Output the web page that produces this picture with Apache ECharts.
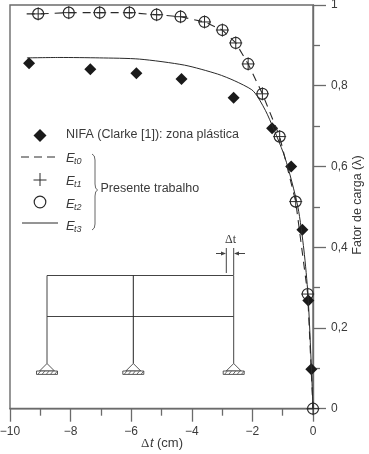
<!DOCTYPE html>
<html><head><meta charset="utf-8">
<script src="https://cdn.jsdelivr.net/npm/echarts@6/dist/echarts.min.js"></script>
<style>html,body{margin:0;padding:0;background:#fff}#c{width:369px;height:454px}</style>
</head><body><div id="c"></div>
<script>
// Data
const nifaX = [-9.37,-7.35,-5.83,-4.34,-2.62,-1.35,-0.72,-0.35,-0.155,-0.055];
const nifaY = [0.856,0.841,0.831,0.817,0.770,0.695,0.600,0.443,0.268,0.098];
const femX  = [-9.07,-8.06,-7.04,-6.06,-5.16,-4.37,-3.58,-2.99,-2.55,-2.14,-1.67,-1.10,-0.57,-0.175,0];
const femY  = [0.978,0.981,0.981,0.981,0.976,0.971,0.958,0.938,0.906,0.854,0.780,0.674,0.513,0.284,0];
const dashX = [-9.45,-9.07,-8.06,-7.04,-6.06,-5.16,-4.37,-3.58,-2.99,-2.55,-2.14,-1.67,-1.10,-0.57,-0.175,0];
const dashY = [0.978,0.978,0.981,0.981,0.981,0.976,0.971,0.958,0.938,0.906,0.854,0.780,0.674,0.513,0.284,0];
const solidX = [-9.44,-8.38,-7.05,-5.73,-4.24,-3.15,-2.58,-2.02,-1.82,-1.50,-0.93,-0.50,-0.30,-0.166,-0.05,0];
const solidY = [0.869,0.870,0.869,0.866,0.851,0.829,0.812,0.790,0.772,0.728,0.623,0.500,0.393,0.282,0.096,0];
const xTickLabels = {'-10':'\u221210','-8':'\u22128','-6':'\u22126','-4':'\u22124','-2':'\u22122','0':'0'};
const yTickLabels = {'0':'0','0.2':'0,2','0.4':'0,4','0.6':'0,6','0.8':'0,8','1':'1'};
const legendMain = 'NIFA (Clarke [1]): zona pl\u00e1stica';
const legendGroup = 'Presente trabalho';
const legendSubs = ['t0','t1','t2','t3'];
const yTitle = 'Fator de carga (\u03bb)';

const zip = (a,b)=>a.map((v,i)=>[v,b[i]]);
const AX='#6b6b6b', INK='#2a2a2a', TXT='#3a3a3a';
const FONT='"Liberation Sans",Arial,sans-serif';
const plus='path://M-1 0L1 0M0 -1L0 1';

const g=[];
const line=(x1,y1,x2,y2,c=INK,w=1)=>g.push({type:'line',silent:true,shape:{x1,y1,x2,y2},style:{stroke:c,lineWidth:w}});
const txt=(x,y,text,o={})=>g.push({type:'text',silent:true,x,y,style:Object.assign({text,fill:TXT,font:`12.5px ${FONT}`,verticalAlign:'middle'},o)});
const poly=(points,style)=>g.push({type:'polygon',silent:true,shape:{points},style});
const curve=(x1,y1,cpx1,cpy1,x2,y2)=>g.push({type:'bezierCurve',silent:true,shape:{x1,y1,cpx1,cpy1,x2,y2},style:{fill:'none',stroke:'#555',lineWidth:0.9}});

// Legend
poly([[40,129],[46.5,135.5],[40,142],[33.5,135.5]],{fill:'#1a1a1a'});
txt(66,135,legendMain);
line(21,157,29,157);line(34,157,42,157);line(47,157,55,157);
line(40,173,40,186);line(33.5,180,46.5,180);
g.push({type:'circle',silent:true,shape:{cx:40,cy:202,r:5.8},style:{fill:'none',stroke:INK,lineWidth:1.2}});
line(22,223,58,223);
[158,181,204,226].forEach((y,i)=>{
  txt(66,y,'E',{font:`italic 13px ${FONT}`});
  txt(74,y+3,legendSubs[i],{font:`italic 9px ${FONT}`});
});
curve(92,154,95,155,95,160);line(95,160,95,184,'#555',0.9);curve(95,184,95,189,97.5,190);
curve(97.5,190,95,191,95,196);line(95,196,95,224,'#555',0.9);curve(95,224,95,229,92,230);
txt(100.5,189,legendGroup);

// Frame schematic
const FC='#444';
line(47,275.5,233.7,275.5,FC);line(47,316.5,233.7,316.5,FC);
[47,133.3,233.7].forEach(x=>{
  line(x,275.5,x,363.5,x===133.3?'#222':FC);
  poly([[x,363.5],[x-7.5,371],[x+7.5,371]],{fill:'none',stroke:FC,lineWidth:0.9});
  g.push({type:'rect',silent:true,shape:{x:x-10.5,y:371,width:21,height:3.4},style:{fill:'#fff',stroke:FC,lineWidth:0.9}});
  for(let k=0;k<5;k++) line(x-9+k*4.2,374.2,x-6.5+k*4.2,371.2,FC,0.8);
});
line(226.3,248,226.3,273,FC);line(233.7,248,233.7,275,FC);
line(216,253.5,224,253.5,FC);line(236,253.5,245,253.5,FC);
poly([[226,253.5],[221,251.5],[221,255.5]],{fill:FC});
poly([[234,253.5],[239,251.5],[239,255.5]],{fill:FC});
txt(225,240,'\u0394t',{font:'12px "Liberation Serif",serif'});

// Axis titles
g.push({type:'text',silent:true,x:358,y:205,rotation:Math.PI/2,style:{text:yTitle,fill:TXT,font:`12.5px ${FONT}`,align:'center',verticalAlign:'middle'}});
txt(141,443.5,'\u0394',{font:'13px "Liberation Serif",serif'});
txt(150,443.5,'t',{font:`italic 13px ${FONT}`});
txt(157,443.5,'(cm)',{font:`13px ${FONT}`});

const chart=echarts.init(document.getElementById('c'),null,{renderer:'canvas'});
const axisCommon={axisLine:{show:true,onZero:false,lineStyle:{color:AX,width:1.4}},
  axisTick:{show:true,inside:false,length:13,lineStyle:{color:AX,width:1.3}},
  minorTick:{show:true,splitNumber:2,length:7,lineStyle:{color:AX,width:1.3}},
  splitLine:{show:false},minorSplitLine:{show:false}};
chart.setOption({
  animation:false,backgroundColor:'#fff',
  grid:{left:10,right:56,top:5,bottom:45.3,show:true,borderColor:AX,borderWidth:1.4,outerBoundsMode:'none'},
  xAxis:Object.assign({type:'value',min:-10,max:0,interval:2,position:'bottom',
    axisLabel:{color:TXT,fontFamily:FONT,fontSize:12,margin:17,showMinLabel:true,showMaxLabel:true,
      formatter:v=>xTickLabels[String(v)]}},axisCommon),
  yAxis:Object.assign({type:'value',min:0,max:1,interval:0.2,position:'right',
    axisLabel:{color:TXT,fontFamily:FONT,fontSize:12,margin:18,align:'left',showMinLabel:true,showMaxLabel:true,
      formatter:v=>yTickLabels[String(+v.toFixed(1))]}},axisCommon),
  series:[
    {name:'Et3',type:'line',data:zip(solidX,solidY),symbol:'none',smooth:0.25,clip:false,lineStyle:{color:INK,width:1}},
    {name:'Et0',type:'line',data:zip(dashX,dashY),symbol:'none',clip:false,lineStyle:{color:INK,width:1.1,type:[8,6]}},
    {name:'Et1',type:'scatter',data:zip(femX,femY),clip:false,symbol:plus,symbolSize:13,itemStyle:{color:'none',borderColor:INK,borderWidth:1,opacity:1}},
    {name:'Et2',type:'scatter',data:zip(femX,femY),clip:false,symbol:'circle',symbolSize:11,itemStyle:{color:'none',borderColor:INK,borderWidth:1.2,opacity:1}},
    {name:'NIFA',type:'scatter',data:zip(nifaX,nifaY),clip:false,symbol:'diamond',symbolSize:[12,12],itemStyle:{color:'#1a1a1a',opacity:1}}
  ],
  graphic:{elements:g}
});
</script></body></html>
